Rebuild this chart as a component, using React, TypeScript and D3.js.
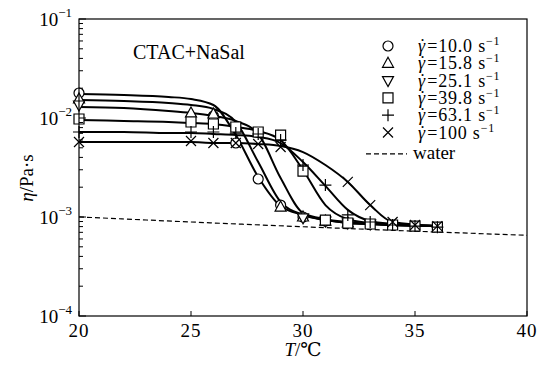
import { useEffect, useRef } from 'react';
import * as d3 from 'd3';

// fitted curves (viscosity in Pa·s)
const fitT = [20, 22, 24, 25, 26, 27, 28, 29, 30, 31, 32, 33, 34, 36];
const fit10 = [0.01748, 0.01707, 0.0163, 0.01555, 0.01353, 0.00673, 0.00254, 0.00129, 0.00105, 0.00093, 0.00087, 0.00085, 0.00083, 0.00081];
const fit15 = [0.0152, 0.01485, 0.01418, 0.01353, 0.01233, 0.00911, 0.00359, 0.00142, 0.00105, 0.00093, 0.00087, 0.00085, 0.00083, 0.00081];
const fit25 = [0.01291, 0.01262, 0.01177, 0.01123, 0.01047, 0.00933, 0.00689, 0.00248, 0.0011, 0.00095, 0.00089, 0.00085, 0.00083, 0.00081];
const fit39 = [0.00954, 0.00933, 0.00911, 0.0089, 0.0087, 0.00811, 0.00739, 0.00599, 0.00298, 0.00132, 0.00095, 0.00087, 0.00083, 0.00081];
const fit63 = [0.00722, 0.00722, 0.00705, 0.00705, 0.00689, 0.00673, 0.00643, 0.00559, 0.00359, 0.00206, 0.00118, 0.00091, 0.00085, 0.00081];
const fit100 = [0.00572, 0.00572, 0.00572, 0.00572, 0.00559, 0.00559, 0.00546, 0.00522, 0.00453, 0.00335, 0.00226, 0.00132, 0.00089, 0.00081];

// measured points per shear rate
const t10 = [20, 26, 27, 28, 29, 30, 31, 32];
const eta10 = [0.01788, 0.01047, 0.00559, 0.00242, 0.00132, 0.001, 0.00091, 0.00087];
const t15 = [20, 25, 26, 29, 30, 31, 32];
const eta15 = [0.01555, 0.01123, 0.01097, 0.00126, 0.001, 0.00091, 0.00087];
const t25 = [20, 30, 31, 32, 33];
const eta25 = [0.01353, 0.00098, 0.00091, 0.00087, 0.00085];
const t39 = [20, 25, 26, 27, 28, 29, 30, 31, 32, 33, 34, 35, 36];
const eta39 = [0.00977, 0.00911, 0.0087, 0.00811, 0.00722, 0.00673, 0.00291, 0.00093, 0.00087, 0.00085, 0.00083, 0.00081, 0.00079];
const t63 = [20, 25, 26, 27, 28, 29, 30, 31, 32, 33, 34, 35, 36];
const eta63 = [0.00722, 0.00722, 0.00722, 0.00705, 0.00689, 0.00599, 0.00335, 0.0021, 0.00105, 0.00089, 0.00083, 0.00081, 0.00079];
const t100 = [20, 25, 26, 27, 28, 29, 32, 33, 34, 35, 36];
const eta100 = [0.00572, 0.00586, 0.00559, 0.00559, 0.00546, 0.00509, 0.00226, 0.00132, 0.00089, 0.00083, 0.00081];

const rateLabels = ['10.0', '15.8', '25.1', '39.8', '63.1', '100'];
const markers = ['circle', 'triangle', 'triangleDown', 'square', 'plus', 'cross'];

// pure water reference
const waterT = [20, 25, 30, 35, 40];
const waterEta = [0.001002, 0.00089, 0.000797, 0.000719, 0.000653];

const xTicks = [20, 25, 30, 35, 40];
const yExps = [-4, -3, -2, -1];

const W = 551;
const H = 367;
const m = { left: 79, right: 24, top: 19, bottom: 51 };
const FONT = "'Liberation Serif', 'DejaVu Serif', serif";

function markerPath(kind: string) {
  switch (kind) {
    case 'circle': return 'M5,0A5,5 0 1,1 -5,0A5,5 0 1,1 5,0Z';
    case 'triangle': return 'M0,-6L5.5,4L-5.5,4Z';
    case 'triangleDown': return 'M0,6L5.5,-4L-5.5,-4Z';
    case 'square': return 'M-5,-5H5V5H-5Z';
    case 'plus': return 'M-6,0H6M0,-6V6';
    default: return 'M-5,-5L5,5M5,-5L-5,5';
  }
}

function App() {
  const svgRef = useRef<SVGSVGElement>(null);

  useEffect(() => {
    const svg = d3.select(svgRef.current);
    svg.selectAll('*').remove();
    svg.style('font-family', FONT);

    const x = d3.scaleLinear().domain([20, 40]).range([m.left, W - m.right]);
    const y = d3.scaleLog().domain([1e-4, 1e-1]).range([H - m.bottom, m.top]);

    // water dashed
    const wline = d3.line<number>().x((d, i) => x(waterT[i])).y(d => y(d)).curve(d3.curveMonotoneX);
    svg.append('path').attr('d', wline(waterEta)).attr('fill', 'none')
      .attr('stroke', '#000').attr('stroke-width', 1.2).attr('stroke-dasharray', '5,3');

    // fitted curves
    const line = d3.line<number>().x((d, i) => x(fitT[i])).y(d => y(d)).curve(d3.curveMonotoneX);
    [fit10, fit15, fit25, fit39, fit63, fit100].forEach(s => {
      svg.append('path').attr('d', line(s)).attr('fill', 'none')
        .attr('stroke', '#000').attr('stroke-width', 2);
    });

    // markers
    const pts = [[t10, eta10], [t15, eta15], [t25, eta25], [t39, eta39], [t63, eta63], [t100, eta100]];
    pts.forEach(([ts, vs], k) => {
      svg.append('g').selectAll('path').data(vs).join('path')
        .attr('transform', (d, i) => `translate(${x(ts[i])},${y(d)})`)
        .attr('d', markerPath(markers[k]))
        .attr('fill', k < 4 ? '#fff' : 'none')
        .attr('stroke', '#000').attr('stroke-width', 1.2);
    });

    // frame
    svg.append('rect').attr('x', m.left).attr('y', m.top)
      .attr('width', W - m.left - m.right).attr('height', H - m.top - m.bottom)
      .attr('fill', 'none').attr('stroke', '#000').attr('stroke-width', 1.2);

    // x ticks (inward)
    const gx = svg.append('g');
    xTicks.forEach(t => {
      gx.append('line').attr('x1', x(t)).attr('x2', x(t))
        .attr('y1', H - m.bottom).attr('y2', H - m.bottom - 5).attr('stroke', '#000');
      gx.append('text').attr('x', x(t)).attr('y', H - m.bottom + 21)
        .attr('text-anchor', 'middle').attr('font-size', 19).attr('letter-spacing', 1).text(t);
    });

    // y ticks (inward), major + minor
    const gy = svg.append('g');
    yExps.forEach(e => {
      const v = Math.pow(10, e);
      gy.append('line').attr('x1', m.left).attr('x2', m.left + 7)
        .attr('y1', y(v)).attr('y2', y(v)).attr('stroke', '#000');
      if (e < -1) {
        for (let k = 2; k <= 9; k++) {
          gy.append('line').attr('x1', m.left).attr('x2', m.left + 4)
            .attr('y1', y(k * v)).attr('y2', y(k * v)).attr('stroke', '#000');
        }
      }
      const t = gy.append('text').attr('x', 72).attr('y', y(v) + 7)
        .attr('text-anchor', 'end').attr('font-size', 19);
      t.append('tspan').text('10');
      t.append('tspan').attr('dy', -9).attr('font-size', 13).text(`\u2212${-e}`);
    });

    // axis titles
    const yl = svg.append('text').attr('transform', 'translate(33,178) rotate(-90)')
      .attr('text-anchor', 'middle').attr('font-size', 19);
    yl.append('tspan').attr('font-style', 'italic').text('η');
    yl.append('tspan').text('/Pa·s');

    const xl = svg.append('text').attr('x', x(30)).attr('y', 356)
      .attr('text-anchor', 'middle').attr('font-size', 19);
    xl.append('tspan').attr('font-style', 'italic').text('T');
    xl.append('tspan').text('/℃');

    svg.append('text').attr('x', 133).attr('y', 59).attr('font-size', 20).text('CTAC+NaSal');

    // legend
    const lg = svg.append('g');
    rateLabels.forEach((r, i) => {
      const ly = 46 + i * 17.3;
      lg.append('path').attr('transform', `translate(388,${ly})`)
        .attr('d', markerPath(markers[i])).attr('fill', 'none')
        .attr('stroke', '#000').attr('stroke-width', 1.2);
      const t = lg.append('text').attr('x', 418).attr('y', ly + 6)
        .attr('font-size', 18).attr('letter-spacing', 0.8);
      t.append('tspan').attr('font-style', 'italic').text('γ');
      t.append('tspan').attr('dx', -6.5).text('\u02D9');
      t.append('tspan').attr('dx', 1).text(`=${r} s`);
      t.append('tspan').attr('dy', -7).attr('font-size', 12).text('\u22121');
    });
    const wy = 46 + 6 * 17.3 + 4;
    lg.append('line').attr('x1', 366).attr('x2', 407).attr('y1', wy).attr('y2', wy)
      .attr('stroke', '#000').attr('stroke-width', 1.2).attr('stroke-dasharray', '5,3');
    lg.append('text').attr('x', 413).attr('y', wy + 5).attr('font-size', 19).text('water');
  }, []);

  return (
    <div style={{ position: 'absolute', left: 0, top: 0 }}>
      <svg ref={svgRef} width={W} height={H} style={{ display: 'block', background: '#fff' }}></svg>
    </div>
  );
}

export default App;
